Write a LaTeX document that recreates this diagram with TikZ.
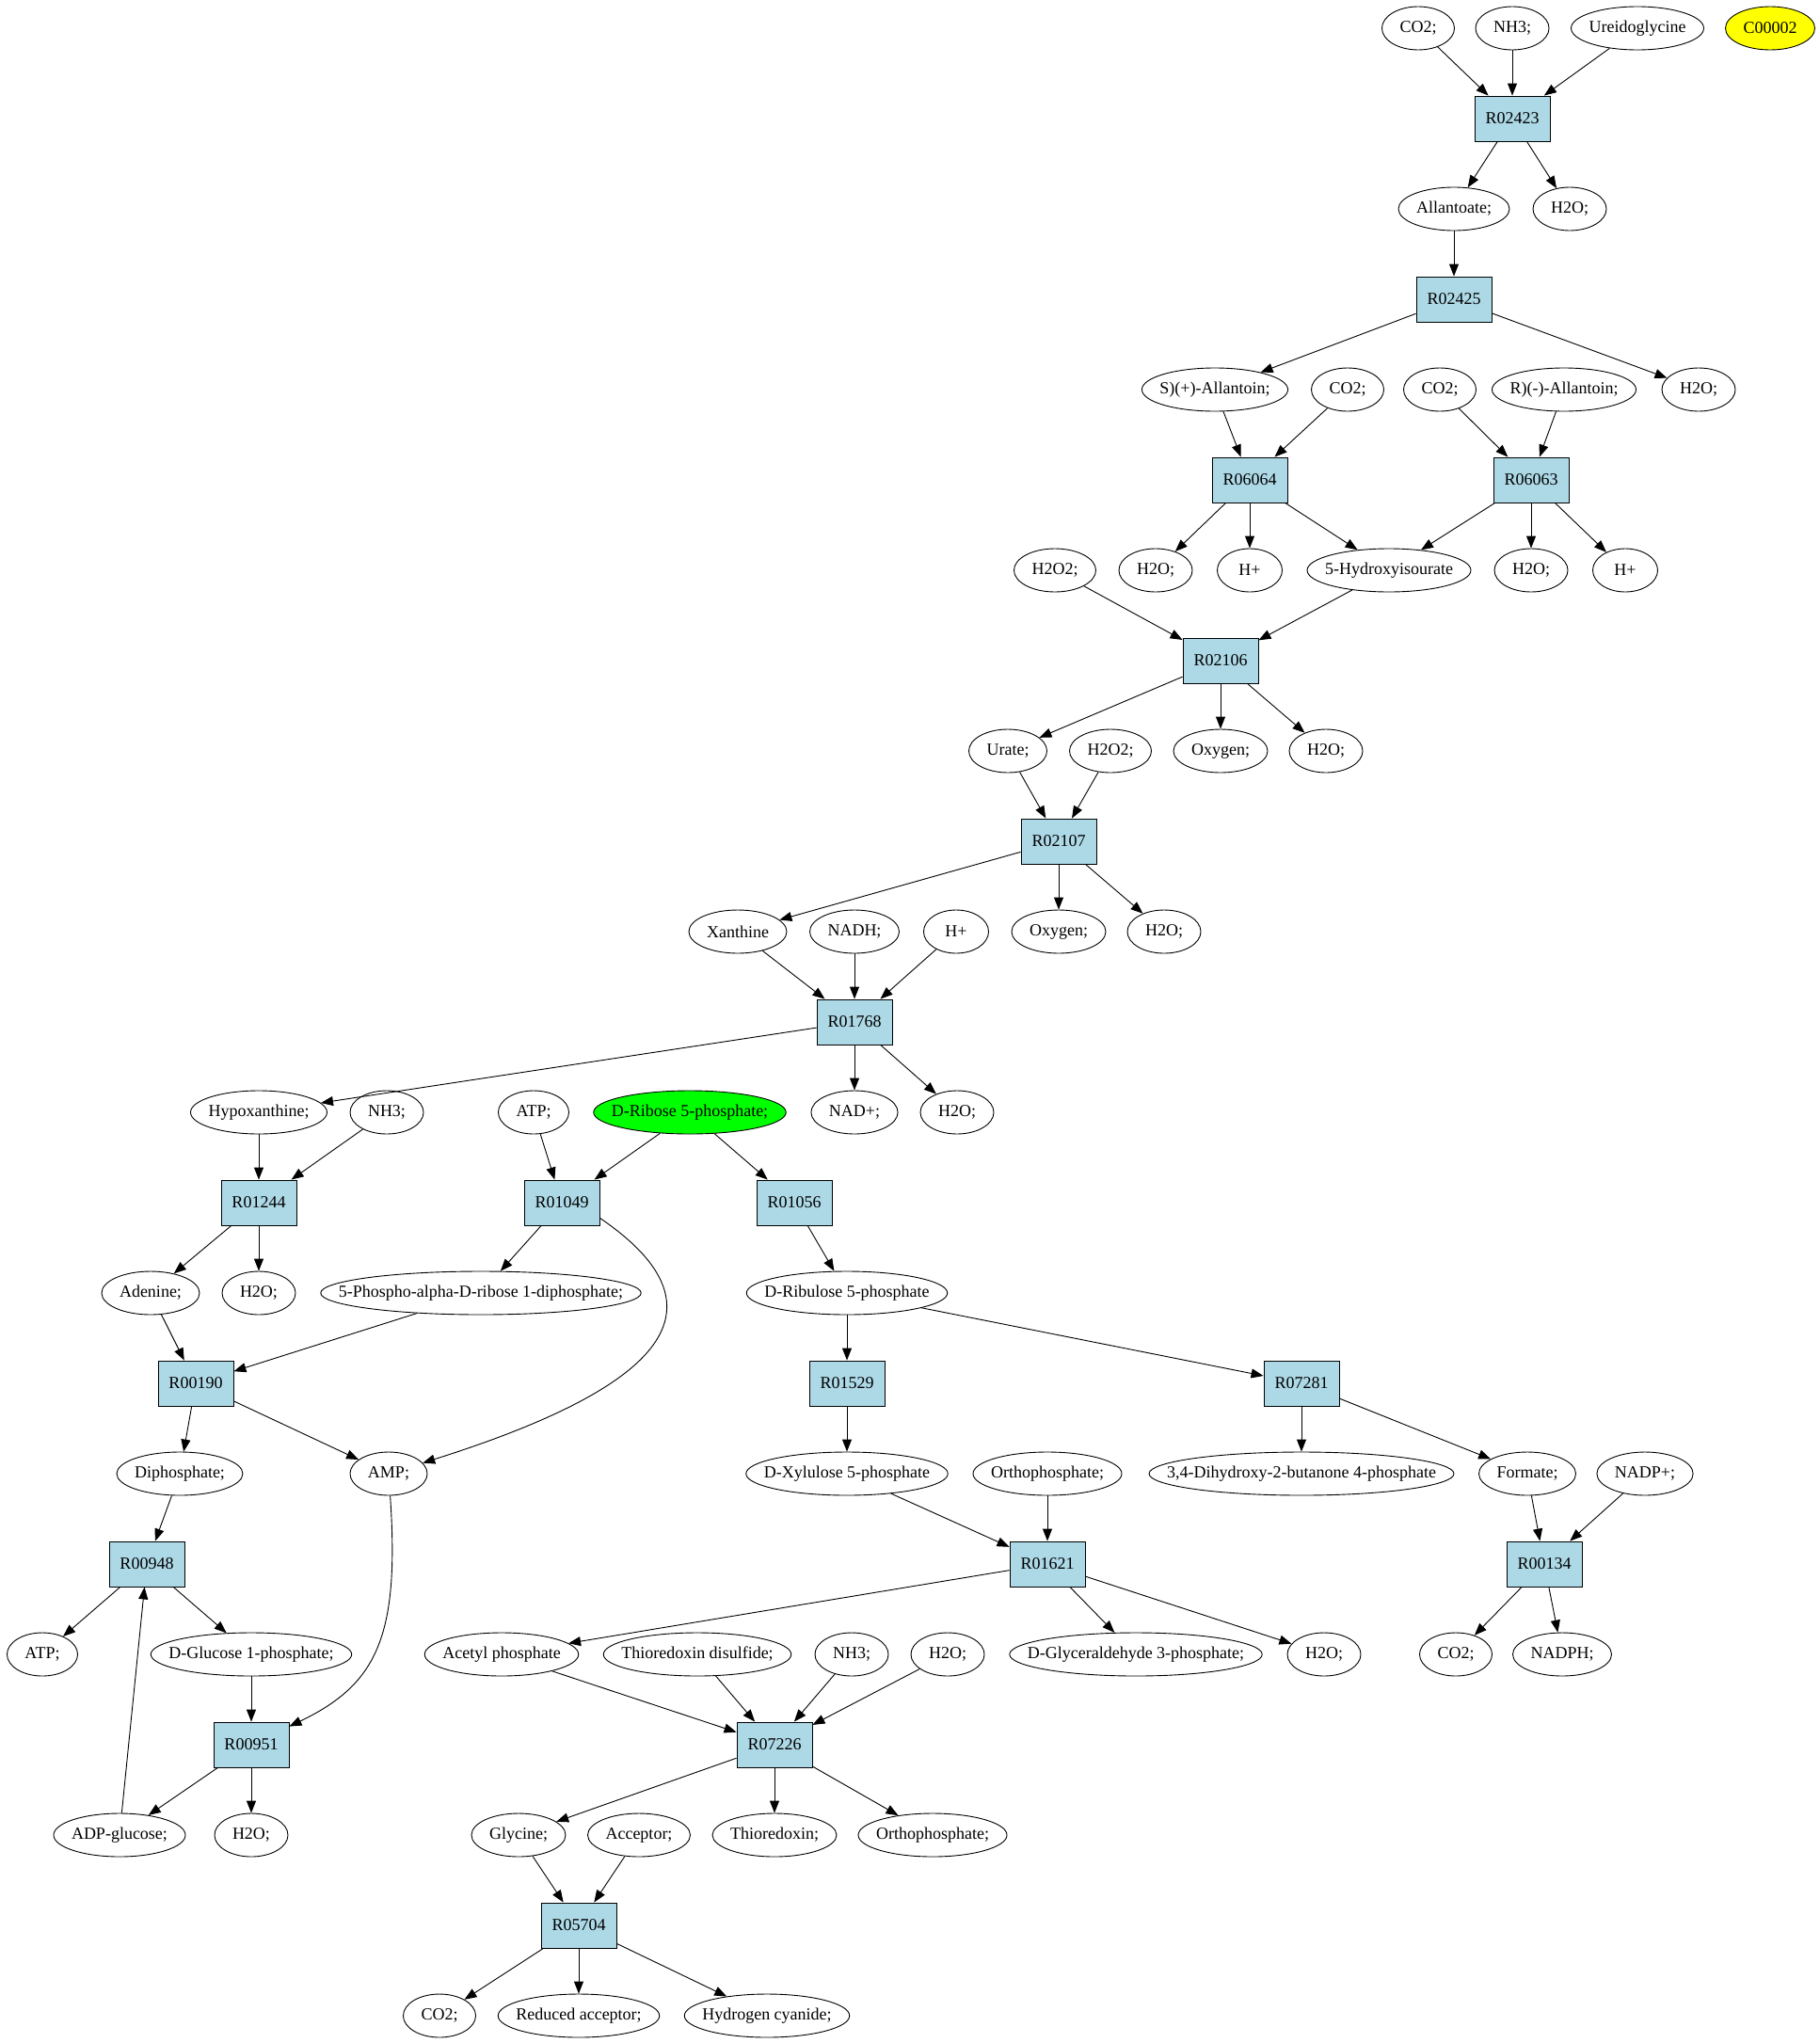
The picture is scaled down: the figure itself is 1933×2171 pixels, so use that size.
\documentclass[tikz,border=0pt]{standalone}
\usepackage{fontspec}
\setmainfont{Liberation Serif}
\usetikzlibrary{shapes.geometric, arrows.meta}
\definecolor{rxnblue}{HTML}{ADD8E6}
\definecolor{seedgreen}{HTML}{00FF00}
\definecolor{tagyellow}{HTML}{FFFF00}
\newsavebox\metbox
\tikzstyle{met} = [ellipse, draw=black, line width=0.9pt, minimum width=69pt, minimum height=46pt, inner sep=0pt, execute at begin node={\setbox\metbox=\hbox\bgroup}, execute at end node={\egroup\hbox to \dimexpr(\wd\metbox+38pt)*1000/1414\relax{\hss\box\metbox\hss}}]
\tikzstyle{rxn} = [rectangle, draw=black, line width=0.9pt, fill=rxnblue, minimum width=80pt, minimum height=48pt, inner sep=0pt]
\tikzstyle{arrow} = [line width=0.9pt, -{Triangle[length=13pt,width=10pt]}]

\begin{document}
\begin{tikzpicture}[x=1pt, y=-1pt, node distance=96pt, font=\fontsize{18}{22}\selectfont]

    \useasboundingbox (0,0) rectangle (1933,2171);

    % allantoate part
    \node (co2a) [met] at (1507,30) {CO2;};
    \node (nh3a) [met] at (1607,30) {NH3;};
    \node (ureido) [met] at (1740,30) {Ureidoglycine};
    \node (c00002) [met, fill=tagyellow] at (1881,30) {C00002};
    \node (r02423) [rxn, below of=nh3a] {R02423};
    \node (allantoate) [met] at (1545,222) {Allantoate;};
    \node (h2oa) [met] at (1668,222) {H2O;};
    \node (r02425) [rxn, below of=allantoate] {R02425};
    \node (sallantoin) [met] at (1291,414) {S)(+)-Allantoin;};
    \node (co2b) [met] at (1432,414) {CO2;};
    \node (co2c) [met] at (1530,414) {CO2;};
    \node (rallantoin) [met] at (1662,414) {R)(-)-Allantoin;};
    \node (h2ob) [met] at (1805,414) {H2O;};
    \node (r06064) [rxn] at (1328,510) {R06064};
    \node (r06063) [rxn] at (1627,510) {R06063};
    \node (h2o2a) [met] at (1121,606) {H2O2;};
    \node (h2oc) [met] at (1228,606) {H2O;};
    \node (hpa) [met, below of=r06064] {H+};
    \node (hydroxy) [met] at (1476,606) {5-Hydroxyisourate};
    \node (h2od) [met, below of=r06063] {H2O;};
    \node (hpb) [met] at (1727,606) {H+};

    % urate and xanthine
    \node (r02106) [rxn] at (1297,702) {R02106};
    \node (urate) [met] at (1071,798) {Urate;};
    \node (h2o2b) [met] at (1180,798) {H2O2;};
    \node (oxya) [met, below of=r02106] {Oxygen;};
    \node (h2oe) [met] at (1409,798) {H2O;};
    \node (r02107) [rxn] at (1125,894) {R02107};
    \node (xanthine) [met] at (784,990) {Xanthine};
    \node (nadh) [met] at (908,990) {NADH;};
    \node (hpc) [met] at (1016,990) {H+};
    \node (oxyb) [met, below of=r02107] {Oxygen;};
    \node (h2of) [met] at (1237,990) {H2O;};
    \node (r01768) [rxn, below of=nadh] {R01768};

    % purine and ribose part
    \node (hypox) [met] at (275,1182) {Hypoxanthine;};
    \node (nh3b) [met] at (411,1182) {NH3;};
    \node (atpa) [met] at (567,1182) {ATP;};
    \node (ribose) [met, fill=seedgreen] at (733,1182) {D-Ribose 5-phosphate;};
    \node (nadplus) [met, below of=r01768] {NAD+;};
    \node (h2og) [met] at (1017,1182) {H2O;};
    \node (r01244) [rxn, below of=hypox] {R01244};
    \node (r01049) [rxn] at (597,1278) {R01049};
    \node (r01056) [rxn] at (844,1278) {R01056};
    \node (adenine) [met] at (160,1374) {Adenine;};
    \node (h2oh) [met, below of=r01244] {H2O;};
    \node (prpp) [met] at (511,1374) {5-Phospho-alpha-D-ribose 1-diphosphate;};
    \node (ribulose) [met] at (900,1374) {D-Ribulose 5-phosphate};
    \node (r00190) [rxn] at (208,1470) {R00190};
    \node (r01529) [rxn, below of=ribulose] {R01529};
    \node (r07281) [rxn] at (1383,1470) {R07281};
    \node (diphos) [met] at (191,1566) {Diphosphate;};
    \node (amp) [met] at (413,1566) {AMP;};
    \node (xylulose) [met, below of=r01529] {D-Xylulose 5-phosphate};
    \node (orthoa) [met] at (1113,1566) {Orthophosphate;};
    \node (dhbp) [met, below of=r07281] {3,4-Dihydroxy-2-butanone 4-phosphate};
    \node (formate) [met] at (1623,1566) {Formate;};
    \node (nadpplus) [met] at (1748,1566) {NADP+;};
    \node (r00948) [rxn] at (156,1662) {R00948};
    \node (r01621) [rxn, below of=orthoa] {R01621};
    \node (r00134) [rxn] at (1641,1662) {R00134};
    \node (atpb) [met] at (45,1758) {ATP;};
    \node (g1p) [met] at (267,1758) {D-Glucose 1-phosphate;};
    \node (acetylp) [met] at (533,1758) {Acetyl phosphate};
    \node (trxss) [met] at (741,1758) {Thioredoxin disulfide;};
    \node (nh3c) [met] at (905,1758) {NH3;};
    \node (h2oi) [met] at (1007,1758) {H2O;};
    \node (gap) [met] at (1207,1758) {D-Glyceraldehyde 3-phosphate;};
    \node (h2oj) [met] at (1407,1758) {H2O;};
    \node (co2d) [met] at (1547,1758) {CO2;};
    \node (nadph) [met] at (1660,1758) {NADPH;};
    \node (r00951) [rxn, below of=g1p] {R00951};
    \node (r07226) [rxn] at (823,1854) {R07226};
    \node (adpglc) [met] at (127,1950) {ADP-glucose;};
    \node (h2ok) [met, below of=r00951] {H2O;};
    \node (glycine) [met] at (551,1950) {Glycine;};
    \node (acceptor) [met] at (679,1950) {Acceptor;};
    \node (trx) [met, below of=r07226] {Thioredoxin;};
    \node (orthob) [met] at (991,1950) {Orthophosphate;};
    \node (r05704) [rxn] at (615,2046) {R05704};
    \node (co2e) [met] at (467,2142) {CO2;};
    \node (redacc) [met, below of=r05704] {Reduced acceptor;};
    \node (hcn) [met] at (815,2142) {Hydrogen cyanide;};

    \draw [arrow] (co2a) -- (r02423);
    \draw [arrow] (nh3a) -- (r02423);
    \draw [arrow] (ureido) -- (r02423);
    \draw [arrow] (r02423) -- (allantoate);
    \draw [arrow] (r02423) -- (h2oa);
    \draw [arrow] (allantoate) -- (r02425);
    \draw [arrow] (r02425) -- (sallantoin);
    \draw [arrow] (r02425) -- (h2ob);
    \draw [arrow] (sallantoin) -- (r06064);
    \draw [arrow] (co2b) -- (r06064);
    \draw [arrow] (co2c) -- (r06063);
    \draw [arrow] (rallantoin) -- (r06063);
    \draw [arrow] (r06064) -- (h2oc);
    \draw [arrow] (r06064) -- (hpa);
    \draw [arrow] (r06064) -- (hydroxy);
    \draw [arrow] (r06063) -- (hydroxy);
    \draw [arrow] (r06063) -- (h2od);
    \draw [arrow] (r06063) -- (hpb);
    \draw [arrow] (h2o2a) -- (r02106);
    \draw [arrow] (hydroxy) -- (r02106);
    \draw [arrow] (r02106) -- (urate);
    \draw [arrow] (r02106) -- (oxya);
    \draw [arrow] (r02106) -- (h2oe);
    \draw [arrow] (urate) -- (r02107);
    \draw [arrow] (h2o2b) -- (r02107);
    \draw [arrow] (r02107) -- (xanthine);
    \draw [arrow] (r02107) -- (oxyb);
    \draw [arrow] (r02107) -- (h2of);
    \draw [arrow] (xanthine) -- (r01768);
    \draw [arrow] (nadh) -- (r01768);
    \draw [arrow] (hpc) -- (r01768);
    \draw [arrow] (r01768) -- (hypox);
    \draw [arrow] (r01768) -- (nadplus);
    \draw [arrow] (r01768) -- (h2og);
    \draw [arrow] (hypox) -- (r01244);
    \draw [arrow] (nh3b) -- (r01244);
    \draw [arrow] (r01244) -- (adenine);
    \draw [arrow] (r01244) -- (h2oh);
    \draw [arrow] (atpa) -- (r01049);
    \draw [arrow] (ribose) -- (r01049);
    \draw [arrow] (ribose) -- (r01056);
    \draw [arrow] (r01049) -- (prpp);
    \draw [arrow] (r01049.-22) .. controls (785,1395) and (692,1478) .. (amp);
    \draw [arrow] (r01056) -- (ribulose);
    \draw [arrow] (adenine) -- (r00190);
    \draw [arrow] (prpp) -- (r00190);
    \draw [arrow] (r00190) -- (diphos);
    \draw [arrow] (r00190) -- (amp);
    \draw [arrow] (ribulose) -- (r01529);
    \draw [arrow] (ribulose) -- (r07281);
    \draw [arrow] (r01529) -- (xylulose);
    \draw [arrow] (r07281) -- (dhbp);
    \draw [arrow] (r07281) -- (formate);
    \draw [arrow] (diphos) -- (r00948);
    \draw [arrow] (xylulose) -- (r01621);
    \draw [arrow] (orthoa) -- (r01621);
    \draw [arrow] (formate) -- (r00134);
    \draw [arrow] (nadpplus) -- (r00134);
    \draw [arrow] (r00948) -- (atpb);
    \draw [arrow] (r00948) -- (g1p);
    \draw [arrow] (r01621) -- (acetylp);
    \draw [arrow] (r01621) -- (gap);
    \draw [arrow] (r01621) -- (h2oj);
    \draw [arrow] (r00134) -- (co2d);
    \draw [arrow] (r00134) -- (nadph);
    \draw [arrow] (g1p) -- (r00951);
    \draw [arrow] (amp) .. controls (425,1740) and (400,1790) .. (r00951);
    \draw [arrow] (acetylp) -- (r07226);
    \draw [arrow] (trxss) -- (r07226);
    \draw [arrow] (nh3c) -- (r07226);
    \draw [arrow] (h2oi) -- (r07226);
    \draw [arrow] (r00951) -- (adpglc);
    \draw [arrow] (r00951) -- (h2ok);
    \draw [arrow] (adpglc) -- (r00948);
    \draw [arrow] (r07226) -- (glycine);
    \draw [arrow] (r07226) -- (trx);
    \draw [arrow] (r07226) -- (orthob);
    \draw [arrow] (glycine) -- (r05704);
    \draw [arrow] (acceptor) -- (r05704);
    \draw [arrow] (r05704) -- (co2e);
    \draw [arrow] (r05704) -- (redacc);
    \draw [arrow] (r05704) -- (hcn);

\end{tikzpicture}
\end{document}
